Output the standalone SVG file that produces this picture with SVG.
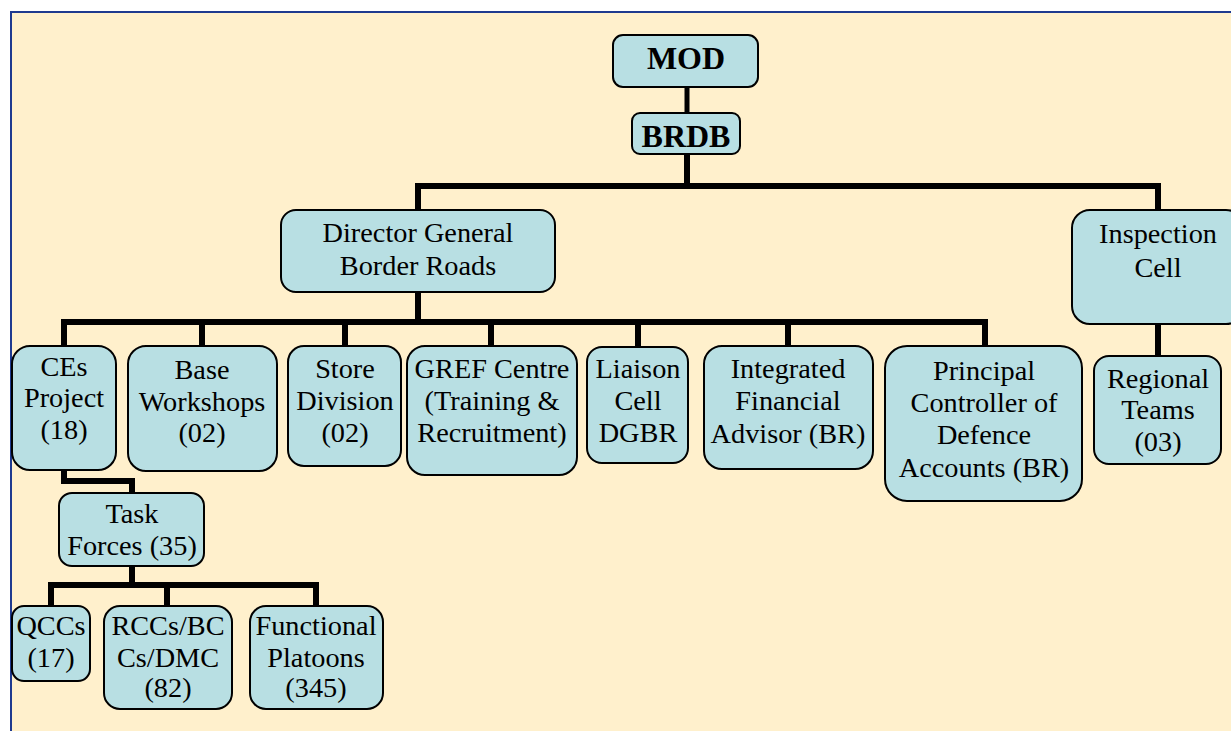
<svg xmlns="http://www.w3.org/2000/svg" width="1231" height="731" viewBox="0 0 1231 731">
<style>
.n rect{fill:#b8dfe3;stroke:#000;stroke-width:2}
text{font-family:'Liberation Serif','DejaVu Serif',serif;font-size:28.3px;fill:#000;text-anchor:middle}
text.b{font-weight:bold;font-size:32px}
#connectors path{fill:none;stroke:#000;stroke-width:6;stroke-linejoin:miter;stroke-linecap:square}
</style>
<rect x="0" y="0" width="1231" height="731" fill="#ffffff"/>
<rect x="11" y="12" width="1240" height="740" fill="#fff0cc" stroke="#1f3a8f" stroke-width="2"/>
<g id="connectors">
<path d="M687 87V113" style="stroke-width:5"/>
<path d="M687 154V186M418 210V186H1158V210"/>
<path d="M418 292V322M64 346V322H985V346M202 322V346M345 322V346M491 322V346M638 322V346M788 322V346"/>
<path d="M1158 324V356"/>
<path d="M64 470V481H132V493"/>
<path d="M132 566V585M51 606V585H316V606M167 585V606"/>
</g>
<g font-family="Liberation Serif, serif">
<g id="mod" class="n"><rect x="613" y="35" width="145" height="52" rx="10"/><text class="b" x="686" y="69">MOD</text></g>
<g id="brdb" class="n"><rect x="632" y="113" width="108" height="41" rx="8"/><text class="b" x="686" y="147">BRDB</text></g>
<g id="dg" class="n"><rect x="281" y="210" width="274" height="82" rx="15"/><text x="418" y="242">Director General</text><text x="418" y="275">Border Roads</text></g>
<g id="inspection" class="n"><rect x="1072" y="210" width="172" height="114" rx="18"/><text x="1158" y="243">Inspection</text><text x="1158" y="277">Cell</text></g>
<g id="regional" class="n"><rect x="1094" y="356" width="127" height="108" rx="15"/><text x="1158" y="388">Regional</text><text x="1158" y="419">Teams</text><text x="1158" y="451">(03)</text></g>
<g id="ces" class="n"><rect x="12" y="346" width="104" height="124" rx="18"/><text x="64" y="376">CEs</text><text x="64" y="407">Project</text><text x="64" y="439">(18)</text></g>
<g id="base" class="n"><rect x="128" y="346" width="149" height="125" rx="18"/><text x="202" y="379">Base</text><text x="202" y="411">Workshops</text><text x="202" y="442">(02)</text></g>
<g id="store" class="n"><rect x="288" y="346" width="113" height="120" rx="16"/><text x="345" y="378">Store</text><text x="345" y="410">Division</text><text x="345" y="442">(02)</text></g>
<g id="gref" class="n"><rect x="407" y="346" width="170" height="129" rx="18"/><text x="492" y="378">GREF Centre</text><text x="492" y="410">(Training &amp;</text><text x="492" y="442">Recruitment)</text></g>
<g id="liaison" class="n"><rect x="587" y="347" width="101" height="116" rx="15"/><text x="638" y="378">Liaison</text><text x="638" y="410">Cell</text><text x="638" y="442">DGBR</text></g>
<g id="ifa" class="n"><rect x="704" y="346" width="169" height="123" rx="18"/><text x="788" y="378">Integrated</text><text x="788" y="410">Financial</text><text x="788" y="443">Advisor (BR)</text></g>
<g id="pcda" class="n"><rect x="885" y="346" width="197" height="155" rx="22"/><text x="984" y="380">Principal</text><text x="984" y="412">Controller of</text><text x="984" y="444">Defence</text><text x="984" y="477">Accounts (BR)</text></g>
<g id="taskforces" class="n"><rect x="59" y="493" width="145" height="73" rx="13"/><text x="132" y="523">Task</text><text x="132" y="555">Forces (35)</text></g>
<g id="qccs" class="n"><rect x="12" y="606" width="78" height="75" rx="12"/><text x="51" y="635">QCCs</text><text x="51" y="667">(17)</text></g>
<g id="rccs" class="n"><rect x="104" y="606" width="128" height="103" rx="16"/><text x="168" y="635">RCCs/BC</text><text x="168" y="667">Cs/DMC</text><text x="168" y="697">(82)</text></g>
<g id="functional" class="n"><rect x="250" y="606" width="133" height="103" rx="16"/><text x="316" y="635">Functional</text><text x="316" y="667">Platoons</text><text x="316" y="697">(345)</text></g>
</g>
</svg>
